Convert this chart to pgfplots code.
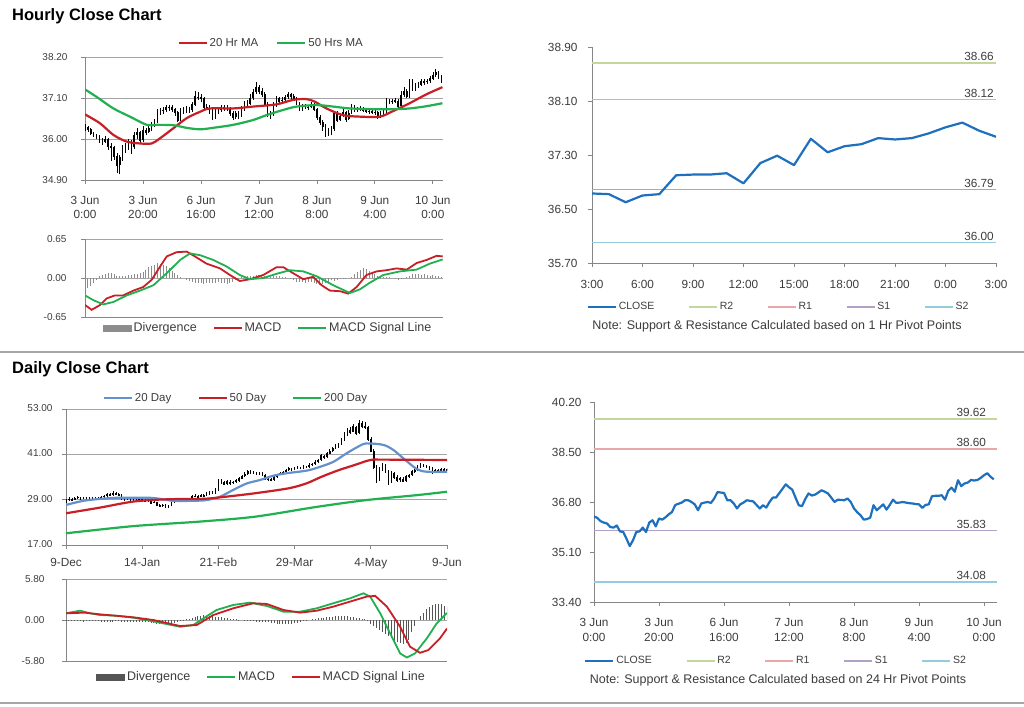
\documentclass[border=0pt]{standalone}
\usepackage{pgfplots}
\pgfplotsset{compat=1.18}
\usepackage{pgfplotstable}
\usepackage{fontspec}
\setmainfont{Liberation Sans}

\definecolor{axgray}{RGB}{134,134,134}
\definecolor{gridgray}{RGB}{165,165,165}
\definecolor{lblgray}{RGB}{60,60,60}
\definecolor{mared}{RGB}{200,30,38}
\definecolor{magreen}{RGB}{32,176,80}
\definecolor{dayblue}{RGB}{100,145,205}
\definecolor{closeblue}{RGB}{30,112,190}
\definecolor{rtwo}{RGB}{195,214,155}
\definecolor{rone}{RGB}{230,168,168}
\definecolor{sone}{RGB}{178,160,199}
\definecolor{stwo}{RGB}{147,205,221}
\definecolor{divlight}{RGB}{140,140,140}
\definecolor{divdark}{RGB}{85,85,85}

\pgfplotstableread{
x o h l c
0 36.35 36.40 36.22 36.31
1 36.31 36.36 36.20 36.26
2 36.26 36.30 36.10 36.15
3 36.15 36.20 36.05 36.10
4 36.10 36.14 36.00 36.07
5 36.07 36.10 35.88 35.95
6 35.95 36.02 35.85 35.93
7 35.93 36.08 35.90 36.00
8 36.00 36.04 35.70 35.80
9 35.80 35.88 35.40 35.78
10 35.78 35.82 35.45 35.55
11 35.55 35.62 35.10 35.30
12 35.30 35.58 35.05 35.50
13 35.50 35.85 35.40 35.78
14 35.78 35.90 35.62 35.80
15 35.80 36.00 35.70 35.93
16 35.93 35.98 35.60 35.78
17 35.78 36.18 35.72 36.10
18 36.10 36.30 36.00 36.18
19 36.18 36.22 35.90 35.97
20 35.97 36.35 35.92 36.24
21 36.24 36.30 36.10 36.20
22 36.20 36.36 36.15 36.28
23 36.28 36.45 36.22 36.38
24 36.38 36.55 36.32 36.46
25 36.46 36.80 36.42 36.70
26 36.70 36.82 36.65 36.74
27 36.74 36.86 36.68 36.78
28 36.78 36.92 36.72 36.86
29 36.86 36.92 36.76 36.86
30 36.86 36.90 36.72 36.80
31 36.80 36.84 36.62 36.72
32 36.72 36.76 36.45 36.52
33 36.52 36.82 36.48 36.75
34 36.75 36.86 36.68 36.78
35 36.78 36.88 36.70 36.80
36 36.80 36.85 36.70 36.77
37 36.77 37.00 36.72 36.92
38 36.92 37.30 36.88 37.14
39 37.14 37.25 37.04 37.12
40 37.12 37.20 37.00 37.11
41 37.11 37.14 36.80 36.86
42 36.86 36.94 36.78 36.86
43 36.86 36.90 36.68 36.75
44 36.75 36.80 36.50 36.58
45 36.58 36.80 36.54 36.72
46 36.72 36.86 36.66 36.78
47 36.78 36.92 36.72 36.86
48 36.86 36.92 36.76 36.84
49 36.84 36.90 36.74 36.82
50 36.82 36.86 36.62 36.70
51 36.70 36.76 36.52 36.58
52 36.58 36.76 36.54 36.69
53 36.69 36.74 36.55 36.61
54 36.61 36.88 36.58 36.80
55 36.80 37.02 36.76 36.95
56 36.95 37.05 36.88 36.95
57 36.95 37.20 36.90 37.10
58 37.10 37.35 37.05 37.25
59 37.25 37.52 37.20 37.40
60 37.40 37.46 37.22 37.30
61 37.30 37.36 37.12 37.22
62 37.22 37.26 36.88 36.95
63 36.95 37.00 36.60 36.69
64 36.69 36.76 36.55 36.66
65 36.66 36.98 36.62 36.90
66 36.90 37.15 36.86 37.09
67 37.09 37.14 36.96 37.02
68 37.02 37.12 36.98 37.05
69 37.05 37.18 37.00 37.12
70 37.12 37.26 37.08 37.20
71 37.20 37.24 37.08 37.15
72 37.15 37.20 37.02 37.09
73 37.09 37.12 36.90 36.95
74 36.95 37.00 36.74 36.80
75 36.80 36.94 36.76 36.88
76 36.88 36.94 36.80 36.87
77 36.87 36.92 36.78 36.86
78 36.86 36.98 36.82 36.92
79 36.92 36.96 36.74 36.80
80 36.80 36.84 36.50 36.58
81 36.58 36.64 36.38 36.45
82 36.45 36.50 36.22 36.35
83 36.35 36.40 36.05 36.20
84 36.20 36.30 36.08 36.22
85 36.22 36.36 36.12 36.27
86 36.27 36.76 36.22 36.69
87 36.69 36.74 36.46 36.52
88 36.52 36.70 36.48 36.62
89 36.62 36.80 36.58 36.72
90 36.72 36.76 36.46 36.54
91 36.54 36.78 36.50 36.70
92 36.70 36.94 36.66 36.88
93 36.88 36.92 36.72 36.77
94 36.77 36.86 36.72 36.78
95 36.78 36.88 36.74 36.80
96 36.80 36.86 36.72 36.78
97 36.78 36.84 36.70 36.76
98 36.76 36.82 36.68 36.75
99 36.75 36.80 36.66 36.73
100 36.73 36.78 36.64 36.72
101 36.72 36.76 36.55 36.60
102 36.60 36.76 36.56 36.70
103 36.70 36.78 36.64 36.72
104 36.72 37.10 36.68 37.00
105 37.00 37.08 36.94 37.01
106 37.01 37.08 36.94 37.01
107 37.01 37.10 36.96 37.03
108 37.03 37.06 36.82 36.88
109 36.88 37.30 36.84 37.18
110 37.18 37.40 37.14 37.29
111 37.29 37.34 37.10 37.15
112 37.15 37.62 37.10 37.54
113 37.54 37.60 37.30 37.34
114 37.34 37.50 37.30 37.43
115 37.43 37.52 37.38 37.46
116 37.46 37.62 37.42 37.55
117 37.55 37.60 37.46 37.53
118 37.53 37.62 37.48 37.55
119 37.55 37.70 37.50 37.62
120 37.62 37.80 37.58 37.71
121 37.71 37.88 37.66 37.78
122 37.78 37.82 37.60 37.66
123 37.66 37.72 37.50 37.57
}\hourly

\pgfplotstableread{
x o h l c
0 28.6 29.2 28.2 28.8
1 28.8 29.6 28.6 29.2
2 29.2 29.4 28.7 29.0
3 29.0 29.8 28.9 29.4
4 29.4 29.9 29.1 29.6
5 29.6 29.8 29.0 29.3
6 29.3 29.8 29.1 29.5
7 29.5 29.7 29.0 29.2
8 29.2 29.7 29.0 29.4
9 29.4 29.6 29.0 29.3
10 29.3 29.7 29.1 29.4
11 29.4 29.6 29.0 29.2
12 29.2 29.9 29.1 29.6
13 29.6 30.3 29.5 30.0
14 30.0 30.7 29.8 30.4
15 30.4 30.7 30.0 30.3
16 30.3 31.2 30.1 30.7
17 30.7 31.0 30.2 30.5
18 30.5 30.8 29.9 30.2
19 30.2 30.4 29.0 29.4
20 29.4 29.6 28.7 29.0
21 29.0 29.5 28.8 29.2
22 29.2 29.4 28.6 28.9
23 28.9 29.3 28.7 29.0
24 29.0 29.4 28.8 29.1
25 29.1 29.3 28.5 28.8
26 28.8 29.3 28.6 29.0
27 29.0 29.2 28.3 28.6
28 28.6 29.2 28.4 28.9
29 28.9 29.0 27.9 28.2
30 28.2 28.7 28.0 28.4
31 28.4 28.5 27.3 27.6
32 27.6 27.9 27.0 27.3
33 27.3 27.9 27.1 27.6
34 27.6 27.8 26.7 27.0
35 27.0 27.7 26.8 27.4
36 27.4 28.5 27.2 28.2
37 28.2 29.1 28.0 28.8
38 28.8 29.3 28.6 29.0
39 29.0 29.2 28.5 28.8
40 28.8 29.3 28.6 29.0
41 29.0 29.5 28.8 29.2
42 29.2 29.4 28.7 29.0
43 29.0 30.2 28.9 29.8
44 29.8 30.4 29.6 30.0
45 30.0 30.2 29.5 29.8
46 29.8 30.6 29.6 30.2
47 30.2 30.5 29.8 30.1
48 30.1 30.9 29.9 30.5
49 30.5 31.4 30.3 31.0
50 31.0 31.3 30.5 30.8
51 30.8 32.0 30.6 31.6
52 31.6 34.5 31.4 33.8
53 33.8 34.4 33.2 33.6
54 33.6 34.0 32.8 33.2
55 33.2 34.3 33.0 33.8
56 33.8 34.1 33.0 33.4
57 33.4 34.0 33.1 33.6
58 33.6 34.4 33.3 34.0
59 34.0 35.0 33.8 34.6
60 34.6 35.6 34.4 35.2
61 35.2 36.2 35.0 35.8
62 35.8 36.9 35.6 36.4
63 36.4 36.8 35.7 36.0
64 36.0 36.6 35.8 36.2
65 36.2 36.4 35.5 35.8
66 35.8 36.4 35.6 36.0
67 36.0 36.2 35.3 35.6
68 35.6 35.8 34.3 34.6
69 34.6 35.0 34.0 34.4
70 34.4 34.8 33.9 34.2
71 34.2 35.4 34.0 35.0
72 35.0 35.9 34.8 35.6
73 35.6 36.3 35.4 36.0
74 36.0 36.6 35.8 36.2
75 36.2 37.2 36.0 36.8
76 36.8 37.6 36.6 37.2
77 37.2 37.4 36.7 37.0
78 37.0 37.6 36.8 37.3
79 37.3 37.9 37.1 37.5
80 37.5 37.7 37.1 37.4
81 37.4 38.2 37.2 37.8
82 37.8 38.0 37.3 37.7
83 37.7 38.6 37.5 38.2
84 38.2 38.8 38.0 38.4
85 38.4 39.5 38.2 39.0
86 39.0 39.8 38.8 39.4
87 39.4 41.0 39.2 40.6
88 40.6 40.9 39.8 40.2
89 40.2 41.6 40.0 41.2
90 41.2 42.3 41.0 41.8
91 41.8 43.0 41.5 42.6
92 42.6 43.7 42.3 43.2
93 43.2 44.0 42.8 43.6
94 43.6 45.3 43.4 44.8
95 44.8 46.8 44.5 46.2
96 46.2 48.0 45.8 47.4
97 47.4 48.3 46.5 47.0
98 47.0 49.0 46.8 48.3
99 48.3 48.6 46.0 46.6
100 46.6 50.0 46.4 49.2
101 49.2 49.8 48.0 48.6
102 48.6 49.6 47.8 48.3
103 48.3 48.5 44.5 45.0
104 45.0 45.6 41.5 42.0
105 42.0 42.4 37.0 37.7
106 37.7 38.2 33.5 34.2
107 34.2 37.6 33.9 37.0
108 37.0 38.6 36.5 37.7
109 37.7 38.4 36.0 36.5
110 36.5 36.8 33.0 33.8
111 33.8 36.6 33.5 36.0
112 36.0 36.4 34.6 35.0
113 35.0 35.4 33.8 34.2
114 34.2 35.0 33.8 34.6
115 34.6 35.0 33.6 34.0
116 34.0 35.5 33.8 35.1
117 35.1 35.8 34.8 35.4
118 35.4 36.8 35.2 36.4
119 36.4 37.2 36.0 36.8
120 36.8 38.2 36.6 37.8
121 37.8 38.6 37.5 38.2
122 38.2 38.5 37.6 38.0
123 38.0 38.3 37.3 37.7
124 37.7 38.0 36.9 37.3
125 37.3 37.6 35.9 36.4
126 36.4 37.1 36.1 36.8
127 36.8 37.0 36.0 36.5
128 36.5 37.4 36.3 37.0
129 37.0 37.3 36.3 36.7
130 36.7 37.5 36.5 37.0
}\daily

\pgfplotsset{
  base/.style={
    scale only axis,
    axis x line*=bottom, axis y line*=left,
    axis line style={draw=axgray, line width=0.8pt},
    tick align=outside, major tick length=4pt,
    tick style={draw=axgray, line width=0.8pt},
    /pgf/number format/assume math mode=true,
    tick label style={text=lblgray},
    legend columns=-1,
    legend style={draw=none, fill=none, text=lblgray, anchor=center,
      /tikz/every odd column/.append style={column sep=0pt}},
    legend cell align=left,
    legend image code/.code={\draw[##1] (0pt,0pt) -- (28pt,0pt);},
  },
  leftmain/.style={base, ymajorgrids, grid style={draw=gridgray, line width=0.8pt},
    yticklabel style={font=\fontsize{10}{12}\selectfont},
    xticklabel style={font=\fontsize{11.8}{13.5}\selectfont, align=center}},
  rightmain/.style={base,
    tick label style={font=\fontsize{11.8}{15}\selectfont},
    xticklabel style={align=center}},
  candlewick/.style={forget plot, draw=none, error bars/.cd, y dir=both, y explicit,
    error mark=none, error bar style={draw=black, line width=0.6pt}},
  candlebody/.style={forget plot, draw=none, error bars/.cd, y dir=both, y explicit,
    error mark=none, error bar style={draw=black, line width=1.6pt}},
}

\begin{document}
\begin{tikzpicture}
\useasboundingbox (0pt,0pt) rectangle (1024pt,-706pt);

\node[anchor=west, font=\bfseries\fontsize{16.5}{18}\selectfont, inner sep=0pt] at (12pt,-16pt) {Hourly Close Chart};
\node[anchor=west, font=\bfseries\fontsize{16.5}{18}\selectfont, inner sep=0pt] at (12pt,-369pt) {Daily Close Chart};
\draw[draw=gray!70, line width=1.2pt] (0pt,-352pt) -- (1024pt,-352pt);
\draw[draw=gray!70, line width=1.2pt] (0pt,-703pt) -- (1024pt,-703pt);

% ---------- Panel 1: hourly candles ----------
\begin{axis}[leftmain, at={(85pt,-57pt)}, anchor=north west, width=358pt, height=123pt,
  xmin=0, xmax=123.5, ymin=34.9, ymax=38.2,
  ytick={34.9,36.0,37.1,38.2}, yticklabels={34.90,36.00,37.10,38.20},
  yticklabel style={xshift=-10pt}, xticklabel style={yshift=-9pt},
  xtick={0,20,...,120},
  xticklabels={{3 Jun\\0:00},{3 Jun\\20:00},{6 Jun\\16:00},{7 Jun\\12:00},{8 Jun\\8:00},{9 Jun\\4:00},{10 Jun\\0:00}},
  legend style={at={(0.52,1.114)}, font=\fontsize{11.5}{13}\selectfont,
    /tikz/every even column/.append style={column sep=16pt}}]
\addplot[candlewick] table[x=x, y=c, y error plus expr=\thisrow{h}-\thisrow{c}, y error minus expr=\thisrow{c}-\thisrow{l}] {\hourly};
\addplot[candlebody] table[x=x, y=c, y error plus expr={max(\thisrow{o}-\thisrow{c},0.008)}, y error minus expr={max(\thisrow{c}-\thisrow{o},0.008)}] {\hourly};
\addplot[mared, line width=2.2pt, smooth] coordinates {(0,36.66)(5.2,36.42)(9.8,36.11)(14.4,35.93)(19,35.88)(23,35.88)(25.9,36.02)(30.5,36.29)(35.1,36.56)(39.7,36.73)(43.1,36.82)(51.1,36.82)(58,36.87)(66.1,36.93)(71.8,37.05)(76.4,37.07)(79.3,37.00)(83.3,36.82)(89,36.64)(94.8,36.60)(101.7,36.60)(106.3,36.75)(112,36.96)(117.8,37.20)(123.3,37.39)};
\addlegendentry{20 Hr MA}
\addplot[magreen, line width=2.2pt, smooth] coordinates {(0,37.33)(4,37.13)(9.8,36.82)(15.5,36.60)(21.3,36.38)(24.7,36.38)(30.5,36.37)(35,36.30)(39.7,36.26)(44.2,36.30)(51.1,36.38)(58,36.51)(62.6,36.64)(68.4,36.78)(73,36.87)(79.9,36.91)(85.6,36.87)(91.4,36.82)(99.4,36.80)(106.3,36.80)(112,36.82)(117.8,36.88)(123.3,36.96)};
\addlegendentry{50 Hrs MA}
\end{axis}

% ---------- Panel 2: hourly MACD ----------
\begin{axis}[leftmain, at={(85pt,-239pt)}, anchor=north west, width=358pt, height=78pt,
  xmin=0, xmax=123.5, ymin=-0.65, ymax=0.65,
  ytick={-0.65,0,0.65}, yticklabels={-0.65,0.00,0.65}, xtick=\empty,
  yticklabel style={xshift=-11pt},
  legend style={at={(0.511,-0.141)}, font=\fontsize{12.5}{14}\selectfont,
    /tikz/every even column/.append style={column sep=14pt}}]
\addplot[ycomb, divlight, line width=0.9pt, legend image code/.code={\fill[divlight] (0pt,-3pt) rectangle (28pt,3pt);}]
  table[row sep=\\, header=false, x expr=\coordindex, y index=0] {
-0.15\\-0.17\\-0.14\\-0.08\\-0.03\\
0.03\\0.05\\0.06\\0.08\\0.08\\0.06\\0.04\\
0.03\\0.04\\0.04\\0.05\\0.05\\0.06\\0.06\\0.08\\
0.10\\0.14\\0.18\\0.20\\0.22\\0.25\\0.24\\0.22\\0.20\\0.16\\0.12\\0.08\\0.05\\
0.02\\0.0\\-0.03\\-0.05\\
-0.06\\-0.08\\-0.09\\-0.08\\-0.10\\-0.09\\-0.08\\-0.09\\-0.08\\-0.07\\-0.08\\-0.09\\-0.10\\-0.08\\-0.06\\-0.03\\
-0.01\\0.01\\0.02\\0.03\\0.04\\0.04\\0.05\\0.05\\0.04\\0.03\\0.03\\0.02\\0.03\\0.04\\0.03\\0.02\\0.01\\0.0\\
-0.02\\-0.04\\-0.06\\-0.07\\-0.06\\-0.08\\-0.07\\-0.06\\-0.08\\-0.10\\-0.12\\-0.10\\-0.08\\-0.06\\-0.04\\-0.05\\-0.04\\-0.02\\-0.02\\-0.01\\0.0\\0.02\\
0.06\\0.10\\0.14\\0.17\\0.15\\0.12\\0.10\\0.06\\
0.04\\0.03\\0.02\\0.02\\0.01\\0.0\\-0.02\\-0.03\\-0.02\\-0.01\\0.02\\0.04\\0.06\\0.07\\0.06\\0.05\\0.06\\0.05\\0.04\\0.05\\0.04\\0.03\\0.02\\
};
\addlegendentry{Divergence}
\addplot[mared, line width=1.8pt] coordinates {(0,-0.45)(2.3,-0.53)(5.2,-0.45)(7.5,-0.34)(10.3,-0.29)(13.2,-0.29)(16.7,-0.21)(20.1,-0.15)(23,-0.03)(25.9,0.19)(28.2,0.36)(31.6,0.43)(35.1,0.44)(37.9,0.36)(41.9,0.24)(46.6,0.16)(50,0.05)(53.4,-0.05)(56.9,-0.02)(61.5,0.05)(66.1,0.18)(68.4,0.18)(71.8,0.08)(75.3,-0.02)(78.7,0.02)(81.6,-0.12)(84.5,-0.21)(88,-0.22)(90.8,-0.26)(93.7,-0.15)(97.1,0.05)(100.6,0.11)(104,0.13)(107.5,0.16)(111,0.14)(114.4,0.25)(117.8,0.30)(121.3,0.37)(123.4,0.36)};
\addlegendentry{MACD}
\addplot[magreen, line width=1.8pt] coordinates {(0,-0.29)(2.9,-0.37)(6.3,-0.44)(9.8,-0.40)(14.4,-0.29)(19,-0.21)(23.6,-0.12)(28.2,0.08)(32.8,0.30)(36.2,0.41)(39.7,0.38)(44.3,0.30)(48.9,0.19)(53.4,0.05)(56.9,-0.02)(61.5,0.0)(66.1,0.07)(70.7,0.13)(75.3,0.11)(79.9,0.03)(85.6,-0.12)(91.4,-0.25)(94.8,-0.19)(98.2,-0.08)(102.9,0.05)(108.6,0.11)(114.4,0.14)(119,0.24)(123.4,0.31)};
\addlegendentry{MACD Signal Line}
\end{axis}

% ---------- Panel 3: 1 Hr pivots ----------
\begin{axis}[rightmain, at={(592pt,-47pt)}, anchor=north west, width=404pt, height=216pt,
  xmin=0, xmax=24, ymin=35.7, ymax=38.9,
  ytick={35.7,36.5,37.3,38.1,38.9}, yticklabels={35.70,36.50,37.30,38.10,38.90},
  yticklabel style={xshift=-7pt}, xticklabel style={yshift=-10pt},
  xtick={0,3,...,24}, xticklabels={3:00,6:00,9:00,12:00,15:00,18:00,21:00,0:00,3:00},
  legend style={at={(0.462,-0.204)}, font=\fontsize{10.5}{12}\selectfont,
    /tikz/every even column/.append style={column sep=32pt}}]
\addlegendimage{closeblue, line width=2pt}
\addlegendentry{CLOSE}
\addplot[rtwo, line width=1.4pt] coordinates {(0,38.66)(24,38.66)};
\addlegendentry{R2}
\addplot[rone, line width=1.4pt] coordinates {(0,38.12)(24,38.12)};
\addlegendentry{R1}
\addplot[sone, line width=1.4pt] coordinates {(0,36.79)(24,36.79)};
\addlegendentry{S1}
\addplot[stwo, line width=1.4pt] coordinates {(0,36.00)(24,36.00)};
\addlegendentry{S2}
\addplot[forget plot, closeblue, line width=2.2pt, line join=round] coordinates {(0,36.73)(1,36.72)(2,36.60)(3,36.70)(4,36.72)(5,37.00)(6,37.01)(7,37.01)(8,37.03)(9,36.88)(10,37.18)(11,37.29)(12,37.15)(13,37.54)(14,37.34)(15,37.43)(16,37.46)(17,37.55)(18,37.53)(19,37.55)(20,37.62)(21,37.71)(22,37.78)(23,37.66)(24,37.57)};
\node[anchor=south east, font=\fontsize{11.8}{14}\selectfont, text=lblgray, inner sep=2pt] at (axis cs:24,38.66) {38.66};
\node[anchor=south east, font=\fontsize{11.8}{14}\selectfont, text=lblgray, inner sep=2pt] at (axis cs:24,38.12) {38.12};
\node[anchor=south east, font=\fontsize{11.8}{14}\selectfont, text=lblgray, inner sep=2pt] at (axis cs:24,36.79) {36.79};
\node[anchor=south east, font=\fontsize{11.8}{14}\selectfont, text=lblgray, inner sep=2pt] at (axis cs:24,36.00) {36.00};
\end{axis}
\node[font=\fontsize{12.5}{14}\selectfont, text=lblgray] at (777pt,-326pt) {Note: Support \& Resistance Calculated based on 1 Hr Pivot Points};

% ---------- Panel 4: daily candles ----------
\begin{axis}[leftmain, at={(66pt,-409pt)}, anchor=north west, width=381pt, height=136pt,
  xmin=0, xmax=130, ymin=17, ymax=53,
  ytick={17,29,41,53}, yticklabels={17.00,29.00,41.00,53.00},
  yticklabel style={xshift=-6pt}, xticklabel style={yshift=-5pt},
  typeset ticklabels with strut,
  xtick={0,26,...,130}, xticklabels={9-Dec,14-Jan,21-Feb,29-Mar,4-May,9-Jun},
  legend style={at={(0.446,1.081)}, font=\fontsize{11.5}{13}\selectfont,
    /tikz/every even column/.append style={column sep=24pt}}]
\addplot[candlewick] table[x=x, y=c, y error plus expr=\thisrow{h}-\thisrow{c}, y error minus expr=\thisrow{c}-\thisrow{l}] {\daily};
\addplot[candlebody] table[x=x, y=c, y error plus expr={max(\thisrow{o}-\thisrow{c},0.1)}, y error minus expr={max(\thisrow{c}-\thisrow{o},0.1)}] {\daily};
\addplot[dayblue, line width=2.2pt, smooth] coordinates {(0,27.6)(5.9,28.7)(11.6,29.2)(17.3,29.5)(23,29.5)(28.7,29.5)(33.2,29.1)(36.6,28.7)(43.4,28.7)(48,28.9)(52.6,29.8)(57.1,31.6)(61.7,33.3)(66.2,34.2)(70.8,35.35)(75.3,36.0)(82.2,36.7)(86.7,37.7)(91.3,39.05)(95.8,41.3)(100.3,43.3)(102.6,43.9)(108.3,43.5)(111.7,42.15)(115.1,39.95)(119.7,37.1)(123.1,36.4)(130,36.4)};
\addlegendentry{20 Day}
\addplot[mared, line width=2.2pt, smooth] coordinates {(0,25.4)(11.6,26.9)(23,28.5)(34.4,29.1)(45.7,29.2)(50,29.4)(57,30.0)(64.5,30.7)(75.9,32.0)(82,33.3)(87.3,35.1)(93,36.8)(98.6,38.2)(103.8,39.5)(108,39.6)(130,39.5)};
\addlegendentry{50 Day}
\addplot[magreen, line width=2.2pt, smooth] coordinates {(0,20.1)(23,22.0)(45.7,23.2)(64.5,24.5)(85.6,27.1)(102.6,28.9)(119.7,30.2)(130,31.1)};
\addlegendentry{200 Day}
\end{axis}

% ---------- Panel 5: daily MACD ----------
\begin{axis}[leftmain, at={(66pt,-579pt)}, anchor=north west, width=381pt, height=82pt,
  xmin=0, xmax=130, ymin=-5.8, ymax=5.8,
  ytick={-5.8,0,5.8}, yticklabels={-5.80,0.00,5.80}, xtick=\empty,
  yticklabel style={xshift=-14pt},
  legend style={at={(0.513,-0.195)}, font=\fontsize{12.5}{14}\selectfont,
    /tikz/every even column/.append style={column sep=14pt}}]
\addplot[ycomb, divdark, line width=0.9pt, legend image code/.code={\fill[divdark] (0pt,-3pt) rectangle (28pt,3pt);}]
  table[row sep=\\, header=false, x expr=\coordindex, y index=0] {
-0.1\\-0.1\\-0.15\\-0.15\\-0.2\\-0.2\\-0.25\\-0.2\\-0.2\\-0.15\\-0.15\\-0.2\\
-0.25\\-0.3\\-0.3\\-0.25\\-0.25\\-0.2\\-0.2\\-0.25\\-0.3\\-0.3\\-0.3\\-0.25\\-0.3\\-0.35\\-0.35\\-0.3\\-0.35\\-0.4\\
-0.45\\-0.5\\-0.55\\-0.6\\-0.6\\-0.55\\-0.5\\-0.4\\-0.3\\-0.2\\-0.1\\0.1\\0.2\\
0.3\\0.45\\0.55\\0.6\\0.65\\0.6\\0.55\\0.5\\0.45\\0.45\\0.4\\0.3\\0.25\\0.2\\
0.15\\0.1\\0.05\\0.0\\-0.05\\-0.1\\-0.15\\-0.2\\-0.25\\-0.3\\-0.3\\-0.35\\-0.35\\-0.4\\
-0.45\\-0.5\\-0.55\\-0.6\\-0.6\\-0.55\\-0.5\\-0.45\\-0.4\\-0.3\\-0.2\\-0.1\\0.0\\0.1\\0.2\\
0.25\\0.3\\0.35\\0.4\\0.45\\0.45\\0.5\\0.5\\0.55\\0.5\\0.5\\0.45\\0.4\\0.35\\0.3\\0.2\\0.1\\
-0.2\\-0.5\\-0.8\\-1.1\\-1.4\\-1.7\\-2.0\\-2.3\\-2.6\\-2.9\\-3.1\\-3.3\\-3.4\\-3.2\\-2.8\\-1.7\\-0.8\\0.0\\
0.5\\1.0\\1.5\\1.9\\2.1\\2.3\\2.3\\2.2\\2.0\\1.8\\
};
\addlegendentry{Divergence}
\addplot[magreen, line width=1.8pt] coordinates {(0,0.95)(4.8,1.32)(8.2,0.95)(11.6,0.71)(17.3,0.61)(23,0.33)(27.5,0)(32.1,-0.38)(38.9,-0.95)(43.4,-0.71)(46.9,0.24)(51.4,1.42)(57.1,2.13)(62.8,2.46)(68.5,1.99)(74.2,1.18)(79.9,1.18)(85.6,1.66)(91.2,2.37)(96.9,3.07)(101.5,3.78)(103.8,3.31)(107.2,0.95)(110.6,-1.89)(114,-4.73)(116.3,-5.30)(119.1,-4.73)(123.1,-2.60)(126.5,-0.47)(130,1.0)};
\addlegendentry{MACD}
\addplot[mared, line width=1.8pt] coordinates {(0,0.95)(6.4,1.04)(11.6,0.80)(23,0.38)(29.8,0)(38.9,-0.85)(44.6,-0.71)(50.3,0.71)(57.1,1.66)(63.9,2.37)(68.5,2.27)(74.2,1.42)(79.9,1.04)(85.6,1.32)(91.2,1.89)(96.9,2.60)(102.6,3.31)(105.5,3.41)(109.5,1.89)(114,-0.95)(117.4,-3.78)(120.8,-4.64)(123.6,-4.26)(127.6,-2.60)(130,-1.2)};
\addlegendentry{MACD Signal Line}
\end{axis}

% ---------- Panel 6: 24 Hr pivots ----------
\begin{axis}[rightmain, at={(594pt,-402pt)}, anchor=north west, width=403pt, height=200pt,
  xmin=0, xmax=124, ymin=33.4, ymax=40.2,
  ytick={33.4,35.1,36.8,38.5,40.2}, yticklabels={33.40,35.10,36.80,38.50,40.20},
  yticklabel style={xshift=-5pt}, xticklabel style={yshift=-9pt},
  xtick={0,20,...,120},
  xticklabels={{3 Jun\\0:00},{3 Jun\\20:00},{6 Jun\\16:00},{7 Jun\\12:00},{8 Jun\\8:00},{9 Jun\\4:00},{10 Jun\\0:00}},
  legend style={at={(0.452,-0.295)}, font=\fontsize{10.5}{12}\selectfont,
    /tikz/every even column/.append style={column sep=32pt}}]
\addlegendimage{closeblue, line width=2pt}
\addlegendentry{CLOSE}
\addplot[rtwo, line width=1.4pt] coordinates {(0,39.62)(124,39.62)};
\addlegendentry{R2}
\addplot[rone, line width=1.4pt] coordinates {(0,38.60)(124,38.60)};
\addlegendentry{R1}
\addplot[sone, line width=1.4pt] coordinates {(0,35.83)(124,35.83)};
\addlegendentry{S1}
\addplot[stwo, line width=1.4pt] coordinates {(0,34.08)(124,34.08)};
\addlegendentry{S2}
\addplot[forget plot, closeblue, line width=2.2pt, line join=round] table[x=x, y=c] {\hourly};
\node[anchor=south east, font=\fontsize{11.8}{14}\selectfont, text=lblgray, inner sep=2pt] at (axis cs:121.3,39.62) {39.62};
\node[anchor=south east, font=\fontsize{11.8}{14}\selectfont, text=lblgray, inner sep=2pt] at (axis cs:121.3,38.60) {38.60};
\node[anchor=south east, font=\fontsize{11.8}{14}\selectfont, text=lblgray, inner sep=2pt] at (axis cs:121.3,35.83) {35.83};
\node[anchor=south east, font=\fontsize{11.8}{14}\selectfont, text=lblgray, inner sep=2pt] at (axis cs:121.3,34.08) {34.08};
\end{axis}
\node[font=\fontsize{12.5}{14}\selectfont, text=lblgray] at (778pt,-680pt) {Note: Support \& Resistance Calculated based on 24 Hr Pivot Points};
\end{tikzpicture}
\end{document}
